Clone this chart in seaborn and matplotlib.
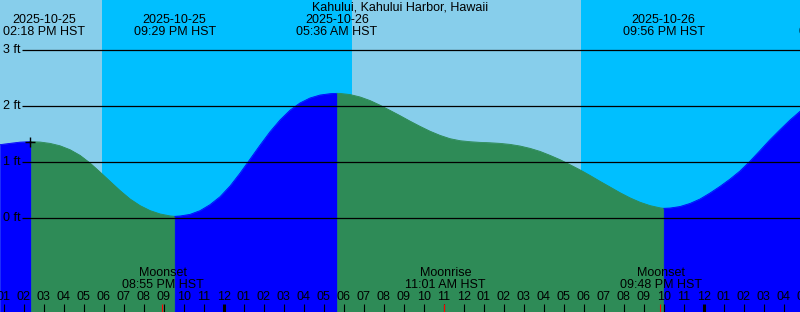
import numpy as np
import pandas as pd
import matplotlib
matplotlib.use("Agg")
import matplotlib.pyplot as plt
import matplotlib.transforms as mtransforms
import seaborn as sns

# ---------------- data ----------------
title = "Kahului, Kahului Harbor, Hawaii"

tide_hours = [12.75, 13.25, 13.75, 14.25, 14.75, 15.25, 15.75, 16.25, 16.75, 17.25,
              17.75, 18.25, 18.75, 19.25, 19.75, 20.25, 20.75, 21.25, 21.75, 22.25,
              22.75, 23.25, 23.75, 24.25, 24.75, 25.25, 25.75, 26.25, 26.75, 27.25,
              27.75, 28.25, 28.75, 29.25, 29.75, 30.25, 30.75, 31.25, 31.75, 32.25,
              32.75, 33.25, 33.75, 34.25, 34.75, 35.25, 35.75, 36.25, 36.75, 37.25,
              37.75, 38.25, 38.75, 39.25, 39.75, 40.25, 40.75, 41.25, 41.75, 42.25,
              42.75, 43.25, 43.75, 44.25, 44.75, 45.25, 45.75, 46.25, 46.75, 47.25,
              47.75, 48.25, 48.75, 49.25, 49.75, 50.25, 50.75, 51.25, 51.75, 52.25,
              52.75]
tide_ft = [1.310, 1.333, 1.355, 1.363, 1.357, 1.333, 1.290, 1.220, 1.119, 0.982,
           0.821, 0.655, 0.490, 0.340, 0.222, 0.133, 0.073, 0.038, 0.036, 0.065,
           0.131, 0.238, 0.380, 0.570, 0.800, 1.050, 1.300, 1.540, 1.750, 1.925,
           2.054, 2.143, 2.196, 2.220, 2.225, 2.205, 2.162, 2.098, 2.015, 1.922,
           1.828, 1.730, 1.637, 1.550, 1.476, 1.417, 1.381, 1.363, 1.351, 1.344,
           1.333, 1.315, 1.286, 1.244, 1.190, 1.119, 1.042, 0.952, 0.860, 0.760,
           0.655, 0.554, 0.452, 0.360, 0.282, 0.222, 0.182, 0.178, 0.205, 0.260,
           0.339, 0.446, 0.565, 0.695, 0.840, 1.015, 1.205, 1.399, 1.577, 1.750,
           1.905]

ext_hours = [14.30, 21.483, 29.60, 45.933, 54.75]
ext_ft = [1.363, 0.030, 2.226, 0.173, 2.10]
ext_dates = ["2025-10-25", "2025-10-25", "2025-10-26", "2025-10-26", "2025-10-27"]
ext_times = ["02:18 PM HST", "09:29 PM HST", "05:36 AM HST", "09:56 PM HST", "06:45 AM HST"]

sun_hours = [17.835, 30.335, 41.80]          # sunset, sunrise, sunset
moon_hours = [20.917, 35.017, 45.80]
moon_names = ["Moonset", "Moonrise", "Moonset"]
moon_times = ["08:55 PM HST", "11:01 AM HST", "09:48 PM HST"]

ft_ticks = [0, 1, 2, 3]
now_hour = 14.27

# ---------------- style ----------------
sns.set_style("white")
plt.rcParams['font.family'] = ['Liberation Sans', 'DejaVu Sans']
plt.rcParams['text.color'] = 'black'
FS = 9
DAY = "#87CEEB"
NIGHT = "#00BFFF"
RISE = "#0000FF"
FALL = "#2E8B57"

W, H = 800, 312
X0, X1 = 12.75, 52.75
PX_PER_H = W / (X1 - X0)
PX_PER_FT = 56.0
Y0 = -(H - 218) / PX_PER_FT
Y1 = 218 / PX_PER_FT
TICK_SHIFT = -1.2 / PX_PER_H   # ticks sit about a pixel left of the events

fig = plt.figure(figsize=(W / 100, H / 100), dpi=100)
ax = fig.add_axes([0, 0, 1, 1])
trans = mtransforms.blended_transform_factory(ax.transData, ax.transAxes)

def yfrac(px):
    return 1 - px / H

# day / night background
edges = [X0] + sun_hours + [X1]
for i in range(len(edges) - 1):
    ax.axvspan(edges[i], edges[i + 1], color=DAY if i % 2 == 0 else NIGHT, lw=0, zorder=0)

# tide curve
df = pd.DataFrame({"hour": tide_hours + ext_hours[:4], "ft": tide_ft + ext_ft[:4]})
df = df.sort_values("hour").reset_index(drop=True)
bounds = [X0] + ext_hours[:4] + [X1]
for i in range(len(bounds) - 1):
    c = RISE if i % 2 == 0 else FALL
    seg = df[(df.hour >= bounds[i]) & (df.hour <= bounds[i + 1])]
    ax.fill_between(seg.hour, seg.ft, Y0, color=c, lw=0.4, edgecolor=c, zorder=1)
    sns.lineplot(data=seg, x="hour", y="ft", color=c, lw=0.6, ax=ax, zorder=1.1, sort=False)
ax.set_xlim(X0, X1)
ax.set_ylim(Y0, Y1)
ax.axis('off')

# grid lines and labels
ax.hlines(ft_ticks, X0 + 22 / PX_PER_H, X1, color="black", lw=0.9, zorder=3)
for v in ft_ticks:
    ax.text(X0 + 3 / PX_PER_H, v, f"{v} ft", ha="left", va="center", fontsize=FS,
            color="black", zorder=4)

# now marker
now_ft = float(np.interp(now_hour, df.hour, df.ft))
ax.plot([now_hour], [now_ft], marker="+", ms=7, mew=1.0, color="black", zorder=4)

# hour ticks and labels
for h in range(12, 54):
    lab = f"{(h - 1) % 12 + 1:02d}"
    ax.text(h + TICK_SHIFT, yfrac(297), lab, transform=trans, ha="center", va="center",
            fontsize=FS, color="black", zorder=4, clip_on=False)
    lw = 2.2 if h % 24 == 0 else 0.8
    ax.vlines(h + TICK_SHIFT, 0, 8 / H, transform=trans, color="black", lw=lw, zorder=4)
for h in moon_hours:
    ax.vlines(h + TICK_SHIFT, 0, 8 / H, transform=trans, color="red", lw=0.8, zorder=5)

# moon event labels
for h, n, t in zip(moon_hours, moon_names, moon_times):
    ax.text(h, yfrac(273.5), n, transform=trans, ha="center", va="center",
            fontsize=FS, color="black", zorder=4)
    ax.text(h, yfrac(285.5), t, transform=trans, ha="center", va="center",
            fontsize=FS, color="black", zorder=4)

# tide event labels (top)
for h, d, t in zip(ext_hours, ext_dates, ext_times):
    cx = max(h, X0 + 44.5 / PX_PER_H)
    ax.text(cx, yfrac(20), d, transform=trans, ha="center", va="center", fontsize=FS,
            color="black", zorder=4, clip_on=False)
    ax.text(cx, yfrac(32), t, transform=trans, ha="center", va="center", fontsize=FS,
            color="black", zorder=4, clip_on=False)

ax.text(0.5, yfrac(7.5), title, transform=ax.transAxes, ha="center", va="center",
        fontsize=FS, color="black", zorder=4)

fig.savefig("out.png", dpi=100)
